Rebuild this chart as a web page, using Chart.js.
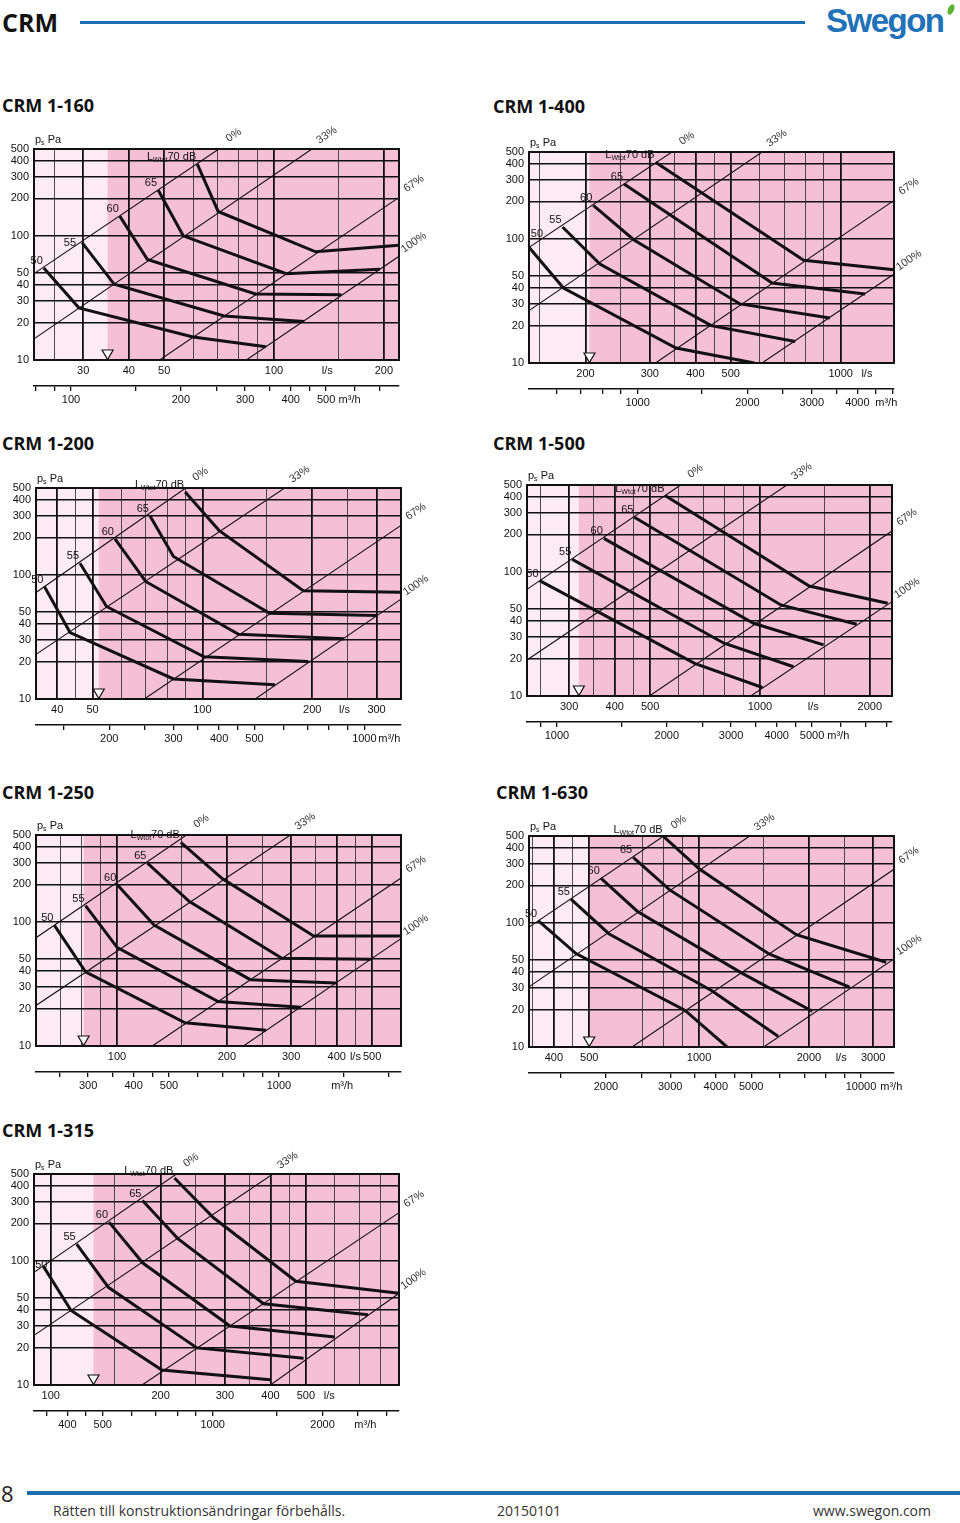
<!DOCTYPE html>
<html lang="sv">
<head>
<meta charset="utf-8">
<title>CRM</title>
<script src="https://cdn.jsdelivr.net/npm/chart.js@4.4.1/dist/chart.umd.min.js"></script>
<style>
  body { margin: 0; width: 960px; height: 1523px; position: relative; background: #fff; overflow: hidden;
         font-family: 'Open Sans', 'Noto Sans', sans-serif; color: #111; }
  .head { position: absolute; left: 2px; top: 5px; font-size: 25px; font-weight: 700; line-height: 34px; }
  .hline { position: absolute; left: 80px; top: 21px; width: 725px; height: 3px; background: #1d6fb3; }
  .logo { position: absolute; left: 826px; top: 2px; font: bold 33px 'Liberation Sans', Arial, sans-serif;
          line-height: 38px; color: #1f71b8; letter-spacing: -1.5px; }
  .leaf { position: absolute; left: 948px; top: 4px; width: 6px; height: 11px; background: #5bb531;
          border-radius: 50%; transform: rotate(25deg); }
  .title { position: absolute; font-size: 18px; font-weight: 700; line-height: 26px; }
  .box { position: absolute; width: 444px; height: 297px; }
  .fnum { position: absolute; left: 1px; top: 1478px; font-size: 22px; line-height: 30px; color: #222; }
  .fline { position: absolute; left: 27px; top: 1491px; width: 933px; height: 4px; background: #1d6fb3; }
  .ftext { position: absolute; top: 1501px; font-size: 14px; line-height: 20px; color: #333; }
</style>
</head>
<body>
<div class="head">CRM</div>
<div class="hline"></div>
<div class="logo">Swegon</div>
<div class="leaf"></div>

<div class="fnum">8</div>
<div class="fline"></div>
<div class="ftext" style="left:53px">Rätten till konstruktionsändringar förbehålls.</div>
<div class="ftext" style="left:497px">20150101</div>
<div class="ftext" style="left:813px">www.swegon.com</div>

<script>
// gemensamma axelvärden
const pressureTicks = [10, 20, 30, 40, 50, 100, 200, 300, 400, 500];
const airflowMarks = [80, 90, 100, 150, 200, 250, 300, 350, 400, 450, 500, 600, 700, 800, 900, 1000,
  1500, 2000, 2500, 3000, 3500, 4000, 4500, 5000, 6000, 7000, 8000, 9000, 10000, 15000];
const soundLevels = ['50', '55', '60', '65', '70'];
const damperNames = ['0%', '33%', '67%', '100%'];

// CRM 1-160
const range160 = [22, 220];
const thick160 = [30, 40, 50, 100, 200];
const thin160 = [25, 60, 70, 80, 90, 150];
const lsLabels160 = [30, 40, 50, 100, 200];
const lsUnit160 = 140;
const m3hLabels160 = [100, 200, 300, 400, 500];
const m3hUnit160 = 580;
const minFlow160 = 35;
const damper160 = [
  [[22, 49.6], [70.6, 500]],
  [[22, 14.8], [127, 500]],
  [[48.6, 10], [220, 204]],
  [[84, 10], [220, 68.5]],
];
const sound160 = [
  [[23.4, 55], [29.2, 26.3], [60, 15.3], [95, 12.8]],
  [[29.8, 88], [36.5, 40.7], [73, 22.6], [121, 20.4]],
  [[37.8, 144], [45, 64.4], [89, 34], [153, 33.6]],
  [[48.1, 235], [56.4, 100], [108, 49.6], [195, 53.8]],
  [[61.6, 380], [70.3, 157], [130, 74.3], [220, 84]],
];

// CRM 1-400
const range400 = [140, 1400];
const thick400 = [200, 300, 400, 500, 1000];
const thin400 = [150, 250, 350, 450, 600, 700, 800, 900];
const lsLabels400 = [200, 300, 400, 500, 1000];
const lsUnit400 = 1180;
const m3hLabels400 = [1000, 2000, 3000, 4000];
const m3hUnit400 = 4800;
const minFlow400 = 205;
const damper400 = [
  [[140, 85.4], [345, 500]],
  [[140, 26.4], [609, 500]],
  [[311, 10], [1400, 204]],
  [[609, 10], [1400, 52.1]],
];
const sound400 = [
  [[140, 85.4], [174, 40.2], [354, 13.2], [580, 10]],
  [[173, 124.5], [219, 62.7], [442, 20], [751, 14.9]],
  [[210, 186], [271, 98.4], [530, 29.9], [934, 23]],
  [[255, 276], [649, 44.1], [1167, 35.9]],
  [[311, 413], [792, 67.1], [1400, 56.4]],
];

// CRM 1-200
const range200 = [35, 350];
const thick200 = [40, 50, 100, 200, 300];
const thin200 = [45, 60, 70, 80, 90, 150, 250];
const lsLabels200 = [40, 50, 100, 200, 300];
const lsUnit200 = 245;
const m3hLabels200 = [200, 300, 400, 500, 1000];
const m3hUnit200 = 1170;
const minFlow200 = 52;
const damper200 = [
  [[35, 72], [90, 500]],
  [[35, 22.9], [168, 500]],
  [[69.3, 10], [350, 250]],
  [[139.5, 10], [350, 63.7]],
];
const sound200 = [
  [[36.9, 80.5], [43.4, 34.3], [83.3, 14.5], [158, 13]],
  [[46.2, 124], [54.6, 55.6], [101, 21.9], [195, 20]],
  [[57.6, 195], [69.9, 88.4], [125.6, 33.2], [244, 30.5]],
  [[71.8, 299], [83.3, 140.6], [152.8, 49.1], [301, 47]],
  [[89.7, 464], [111, 228], [189, 74.3], [350, 72.5]],
];

// CRM 1-500
const range500 = [230, 2300];
const thick500 = [300, 400, 500, 1000, 2000];
const thin500 = [250, 350, 450, 600, 700, 800, 900, 1500];
const lsLabels500 = [300, 400, 500, 1000, 2000];
const lsUnit500 = 1400;
const m3hLabels500 = [1000, 2000, 3000, 4000, 5000];
const m3hUnit500 = 5900;
const minFlow500 = 319;
const damper500 = [
  [[230, 72.3], [606, 500]],
  [[230, 19.5], [1185, 500]],
  [[498, 10], [2300, 213]],
  [[943, 10], [2300, 57.5]],
];
const sound500 = [
  [[249, 84.9], [662, 18.3], [1016, 11.7]],
  [[306, 126], [797, 26.6], [1236, 17.2]],
  [[373.5, 186], [960, 38.5], [1494, 25.8]],
  [[453, 274.6], [1141, 54.1], [1840, 37.8]],
  [[551, 410], [1364, 76.9], [2238, 55.8]],
];

// CRM 1-250
const range250 = [60, 600];
const thick250 = [100, 200, 300, 400, 500];
const thin250 = [70, 80, 90, 150, 250, 350, 450];
const lsLabels250 = [100, 200, 300, 400, 500];
const lsUnit250 = 450;
const m3hLabels250 = [300, 400, 500, 1000];
const m3hUnit250 = 1490;
const minFlow250 = 81;
const damper250 = [
  [[60, 74.5], [155, 500]],
  [[60, 21.2], [298.5, 500]],
  [[125, 10], [600, 225]],
  [[222, 10], [600, 73.1]],
];
const sound250 = [
  [[67.4, 93.5], [82, 39.6], [153.7, 15.4], [256, 13.4]],
  [[82, 135], [100.2, 62], [189.3, 22.8], [319, 20.5]],
  [[100.2, 199], [126.4, 94.1], [231.8, 34.2], [398, 32.1]],
  [[121.2, 297], [157.6, 146.4], [283, 50.9], [497, 50]],
  [[149.6, 437], [194.6, 222], [346, 76.9], [600, 76.9]],
];

// CRM 1-630
const range630 = [342, 3420];
const thick630 = [400, 500, 1000, 2000, 3000];
const thin630 = [350, 450, 700, 800, 900, 1500, 2500];
const lsLabels630 = [400, 500, 1000, 2000, 3000];
const lsUnit630 = 2450;
const m3hLabels630 = [2000, 3000, 4000, 5000, 10000];
const m3hUnit630 = 12100;
const minFlow630 = 500;
const damper630 = [
  [[342, 92.4], [800, 500]],
  [[342, 30.5], [1376, 500]],
  [[655, 10], [3420, 270]],
  [[1503, 10], [3420, 51.2]],
];
const sound630 = [
  [[362.5, 104], [460, 56.5], [914, 19.8], [1193, 10]],
  [[445.5, 155], [566, 81.7], [1081, 28.5], [1646, 12.2]],
  [[538, 229], [678, 123.5], [1306, 39.5], [2043, 19.4]],
  [[660, 337], [831, 184], [1555, 56.1], [2584, 30.3]],
  [[800, 494], [1000, 272], [1847, 80.2], [3256, 48.1]],
];

// CRM 1-315
const range315 = [90, 900];
const thick315 = [100, 200, 300, 400, 500];
const thin315 = [150, 250, 350, 450, 600, 700, 800];
const lsLabels315 = [100, 200, 300, 400, 500];
const lsUnit315 = 580;
const m3hLabels315 = [400, 500, 1000, 2000];
const m3hUnit315 = 2620;
const minFlow315 = 131;
const damper315 = [
  [[90, 80.7], [221, 500]],
  [[90, 25.1], [406, 500]],
  [[178, 10], [900, 244]],
  [[400, 10], [900, 54.8]],
];
const sound315 = [
  [[95.5, 90.2], [113.7, 39.8], [201.6, 13.2], [399.5, 11]],
  [[117.8, 136], [143.9, 61.2], [251.5, 19.9], [493, 16.4]],
  [[144.5, 205], [178.8, 95.9], [310, 29.9], [600, 24.4]],
  [[178.4, 306], [223, 151], [383, 45.1], [740, 36.8]],
  [[218.3, 464], [279.3, 222], [469.6, 68.4], [900, 54.8]],
];

const FONT = "'Liberation Sans', Arial, sans-serif";
const INK = '#111';
const THIN = '#3a3a3a';
const LIGHT = '#fcebf2';
const PINK = '#f5bfd4';

Chart.defaults.font.family = FONT;
Chart.defaults.font.size = 11;
Chart.defaults.color = INK;
Chart.defaults.animation = false;

// diagram: position på sidan + vilka arrayer som hör ihop
const specs = [
  { title: 'CRM 1-160', tx: 2, ty: 92, left: 0, top: 119, range: range160, thick: thick160, thin: thin160,
    lsLabels: lsLabels160, lsUnit: lsUnit160, m3hLabels: m3hLabels160, m3hUnit: m3hUnit160,
    minFlow: minFlow160, dampers: damper160, curves: sound160, nudge: { 1: [-5, 7] } },
  { title: 'CRM 1-400', tx: 493, ty: 93, left: 495, top: 122, range: range400, thick: thick400, thin: thin400,
    lsLabels: lsLabels400, lsUnit: lsUnit400, m3hLabels: m3hLabels400, m3hUnit: m3hUnit400,
    minFlow: minFlow400, dampers: damper400, curves: sound400, nudge: { 0: [15, -6] } },
  { title: 'CRM 1-200', tx: 2, ty: 430, left: 2, top: 458, range: range200, thick: thick200, thin: thin200,
    lsLabels: lsLabels200, lsUnit: lsUnit200, m3hLabels: m3hLabels200, m3hUnit: m3hUnit200,
    minFlow: minFlow200, dampers: damper200, curves: sound200 },
  { title: 'CRM 1-500', tx: 493, ty: 430, left: 493, top: 455, range: range500, thick: thick500, thin: thin500,
    lsLabels: lsLabels500, lsUnit: lsUnit500, m3hLabels: m3hLabels500, m3hUnit: m3hUnit500,
    minFlow: minFlow500, dampers: damper500, curves: sound500 },
  { title: 'CRM 1-250', tx: 2, ty: 779, left: 2, top: 805, range: range250, thick: thick250, thin: thin250,
    lsLabels: lsLabels250, lsUnit: lsUnit250, m3hLabels: m3hLabels250, m3hUnit: m3hUnit250,
    minFlow: minFlow250, dampers: damper250, curves: sound250 },
  { title: 'CRM 1-630', tx: 496, ty: 779, left: 495, top: 806, range: range630, thick: thick630, thin: thin630,
    lsLabels: lsLabels630, lsUnit: lsUnit630, m3hLabels: m3hLabels630, m3hUnit: m3hUnit630,
    minFlow: minFlow630, dampers: damper630, curves: sound630 },
  { title: 'CRM 1-315', tx: 2, ty: 1117, left: 0, top: 1144, range: range315, thick: thick315, thin: thin315,
    lsLabels: lsLabels315, lsUnit: lsUnit315, m3hLabels: m3hLabels315, m3hUnit: m3hUnit315,
    minFlow: minFlow315, dampers: damper315, curves: sound315, nudge: { 0: [5, 6] } },
];

function uniq(arr) {
  return [...new Set(arr)].sort((a, b) => a - b);
}

// skriver text och returnerar nästa x
function txt(ctx, s, x, y, size) {
  ctx.font = size + 'px ' + FONT;
  ctx.fillText(s, x, y);
  return x + ctx.measureText(s).width;
}

function drawLw(ctx, right, y) {
  ctx.textAlign = 'left';
  ctx.font = '11px ' + FONT;
  const w1 = ctx.measureText('L').width, w3 = ctx.measureText('70 dB').width;
  ctx.font = '7px ' + FONT;
  const w2 = ctx.measureText('Wtot').width;
  let x = right - w1 - w2 - w3;
  x = txt(ctx, 'L', x, y, 11);
  x = txt(ctx, 'Wtot', x, y + 3, 7);
  txt(ctx, '70 dB', x, y, 11);
}

const decor = {
  id: 'decor',
  beforeDraw(chart, args, o) {
    const { ctx, chartArea: a } = chart;
    const px = chart.scales.x.getPixelForValue(o.minFlow);
    ctx.save();
    ctx.fillStyle = LIGHT;
    ctx.fillRect(a.left, a.top, a.width, a.height);
    ctx.fillStyle = PINK;
    ctx.fillRect(px, a.top, a.right - px, a.height);
    ctx.restore();
  },
  afterDraw(chart, args, o) {
    const { ctx, chartArea: a } = chart;
    const x = chart.scales.x, y = chart.scales.y;
    ctx.save();

    // ram
    ctx.strokeStyle = INK;
    ctx.lineWidth = 2;
    ctx.strokeRect(a.left, a.top, a.width, a.height);

    // min flöde
    const tx = x.getPixelForValue(o.minFlow);
    ctx.beginPath();
    ctx.moveTo(tx - 5.5, a.bottom - 10);
    ctx.lineTo(tx + 5.5, a.bottom - 10);
    ctx.lineTo(tx, a.bottom - 0.5);
    ctx.closePath();
    ctx.fillStyle = '#fff';
    ctx.fill();
    ctx.lineWidth = 1.2;
    ctx.stroke();

    // ps Pa
    ctx.fillStyle = INK;
    ctx.textBaseline = 'middle';
    ctx.textAlign = 'left';
    let cx = a.left + 1;
    const cy = a.top - 9;
    cx = txt(ctx, 'p', cx, cy, 11);
    cx = txt(ctx, 's', cx, cy + 3, 7);
    txt(ctx, ' Pa', cx, cy, 11);

    // spjällägen
    ctx.fillStyle = '#333';
    o.dampers.forEach((line, i) => {
      const p0 = line[0], p1 = line[line.length - 1];
      const x0 = x.getPixelForValue(p0[0]), y0 = y.getPixelForValue(p0[1]);
      const x1 = x.getPixelForValue(p1[0]), y1 = y.getPixelForValue(p1[1]);
      const ang = Math.atan2(y1 - y0, x1 - x0);
      const ux = Math.cos(ang), uy = Math.sin(ang);
      ctx.save();
      ctx.translate(x1 + 20 * ux + 3 * uy, y1 + 20 * uy - 3 * ux);
      ctx.rotate(ang);
      ctx.textAlign = 'center';
      ctx.font = '11px ' + FONT;
      ctx.fillText(damperNames[i], 0, 0);
      ctx.restore();
    });

    // ljudnivåer
    ctx.fillStyle = INK;
    o.curves.forEach((c, i) => {
      const sx = x.getPixelForValue(c[0][0]), sy = y.getPixelForValue(c[0][1]);
      const n = (o.nudge && o.nudge[i]) || [0, 0];
      const rx = sx - 1 + n[0], ry = sy - 7 + n[1];
      if (i === 4) {
        drawLw(ctx, rx, ry);
      } else {
        ctx.textAlign = 'right';
        ctx.font = '11px ' + FONT;
        ctx.fillText(soundLevels[i], rx, ry);
      }
    });
    ctx.restore();
  }
};

function makeChart(s) {
  const title = document.createElement('div');
  title.className = 'title';
  title.style.left = s.tx + 'px';
  title.style.top = s.ty + 'px';
  title.textContent = s.title;
  document.body.appendChild(title);

  const box = document.createElement('div');
  box.className = 'box';
  box.style.left = s.left + 'px';
  box.style.top = s.top + 'px';
  const canvas = document.createElement('canvas');
  canvas.width = 444;
  canvas.height = 297;
  box.appendChild(canvas);
  document.body.appendChild(box);

  const xTicks = uniq([s.range[0], ...s.thick, ...s.thin, ...s.lsLabels, s.lsUnit, s.range[1]]);
  const mMin = s.range[0] * 3.6, mMax = s.range[1] * 3.6;
  const mTicks = uniq([...airflowMarks, ...s.m3hLabels, s.m3hUnit]).filter(v => v >= mMin && v <= mMax);

  const gridKind = c => {
    const v = c.tick ? c.tick.value : null;
    return s.thick.includes(v) ? 2 : s.thin.includes(v) ? 1 : 0;
  };

  const datasets = [
    ...s.dampers.map(l => ({
      data: l.map(p => ({ x: p[0], y: p[1] })),
      showLine: true, borderColor: INK, borderWidth: 1.1, pointRadius: 0, clip: 0,
      xAxisID: 'x', yAxisID: 'y'
    })),
    ...s.curves.map(l => ({
      data: l.map(p => ({ x: p[0], y: p[1] })),
      showLine: true, borderColor: INK, borderWidth: 3, pointRadius: 0, clip: 1,
      xAxisID: 'x', yAxisID: 'y'
    })),
  ];

  new Chart(canvas, {
    type: 'scatter',
    data: { datasets },
    plugins: [decor],
    options: {
      responsive: false,
      devicePixelRatio: 1,
      layout: { padding: { left: 0, top: 30, right: 45, bottom: 0 } },
      plugins: {
        legend: { display: false },
        tooltip: { enabled: false },
        decor: { minFlow: s.minFlow, dampers: s.dampers, curves: s.curves, nudge: s.nudge }
      },
      scales: {
        x: {
          type: 'logarithmic', position: 'bottom', min: s.range[0], max: s.range[1],
          afterBuildTicks: sc => { sc.ticks = xTicks.map(v => ({ value: v })); },
          afterFit: sc => { sc.height = 26; },
          ticks: {
            autoSkip: false, maxRotation: 0, minRotation: 0, padding: 4,
            callback: v => v === s.lsUnit ? 'l/s' : (s.lsLabels.includes(v) ? String(v) : '')
          },
          grid: {
            drawTicks: false,
            color: c => ['rgba(0,0,0,0)', THIN, INK][gridKind(c)],
            lineWidth: c => [0, 0.9, 1.8][gridKind(c)]
          },
          border: { display: false }
        },
        m3h: {
          type: 'logarithmic', axis: 'x', position: 'bottom', weight: 1, min: mMin, max: mMax,
          afterBuildTicks: sc => { sc.ticks = mTicks.map(v => ({ value: v })); },
          afterFit: sc => { sc.height = 30; },
          ticks: {
            autoSkip: false, maxRotation: 0, minRotation: 0, padding: 2,
            callback: v => v === s.m3hUnit ? 'm³/h' : (s.m3hLabels.includes(v) ? String(v) : '')
          },
          grid: {
            drawOnChartArea: false, drawTicks: true, tickLength: 5, lineWidth: 1.3, color: INK,
            tickColor: c => (c.tick && c.tick.value === s.m3hUnit) ? 'rgba(0,0,0,0)' : INK
          },
          border: { display: true, color: INK, width: 1.5 }
        },
        y: {
          type: 'logarithmic', position: 'left', min: 10, max: 500,
          afterBuildTicks: sc => { sc.ticks = pressureTicks.map(v => ({ value: v })); },
          afterFit: sc => { sc.width = 34; },
          ticks: { autoSkip: false, padding: 5, callback: v => String(v) },
          grid: { drawTicks: false, color: INK, lineWidth: 1.6 },
          border: { display: false }
        }
      }
    }
  });
}

specs.forEach(makeChart);
</script>
</body>
</html>
